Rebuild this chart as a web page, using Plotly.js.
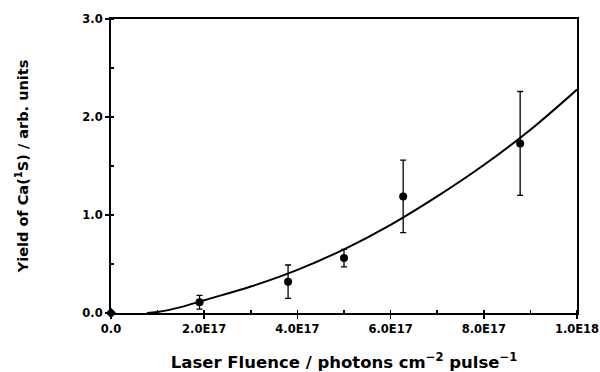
<!DOCTYPE html>
<html>
<head>
<meta charset="utf-8">
<script src="https://cdn.plot.ly/plotly-3.0.1.min.js"></script>
<style>html,body{margin:0;padding:0;background:#fff;}#chart{width:600px;height:372px;}</style>
</head>
<body>
<div id="chart"></div>
<script>
// measured data (laser fluence in photons cm^-2 pulse^-1, yield in arb. units)
const fluence = [0, 1.9e17, 3.8e17, 5.0e17, 6.27e17, 8.78e17];
const yieldVals = [0, 0.11, 0.32, 0.56, 1.19, 1.73];
const errPlus = [0, 0.07, 0.17, 0.09, 0.37, 0.53];
const errMinus = [0, 0.07, 0.17, 0.09, 0.37, 0.53];

// fitted curve
const fitX = [0.77e17, 1.0e17, 1.5e17, 2.0e17, 3.0e17, 4.0e17, 5.0e17, 6.0e17, 7.0e17, 8.0e17, 9.0e17, 1.0e18];
const fitY = [0, 0.01, 0.06, 0.13, 0.27, 0.44, 0.65, 0.90, 1.19, 1.51, 1.87, 2.28];

const xTickVals = [0, 2e17, 4e17, 6e17, 8e17, 1e18];
const xTickText = ["0.0", "2.0E17", "4.0E17", "6.0E17", "8.0E17", "1.0E18"];
const yTickVals = [0, 1, 2, 3];
const yTickText = ["0.0", "1.0", "2.0", "3.0"];

const tickFont = {family: "DejaVu Sans, sans-serif", size: 11.5, color: "#000", weight: "bold"};
const xTitleFont = {family: "DejaVu Sans, sans-serif", size: 16.5, color: "#000", weight: "bold"};
const yTitleFont = {family: "DejaVu Sans, sans-serif", size: 14.5, color: "#000", weight: "bold"};

const traces = [
  {
    x: fitX, y: fitY, mode: "lines", type: "scatter",
    line: {color: "#000", width: 2, shape: "spline"},
    hoverinfo: "skip", showlegend: false
  },
  {
    x: fluence.slice(1), y: yieldVals.slice(1), mode: "markers", type: "scatter",
    marker: {color: "#000", size: 8, symbol: "circle"},
    error_y: {type: "data", symmetric: false, array: errPlus.slice(1), arrayminus: errMinus.slice(1), color: "#000", thickness: 1.3, width: 3},
    showlegend: false, cliponaxis: false
  },
  {
    x: fluence.slice(0, 1), y: yieldVals.slice(0, 1), mode: "markers", type: "scatter",
    marker: {color: "#000", size: 8, symbol: "diamond"},
    showlegend: false, cliponaxis: false
  }
];

const layout = {
  width: 600, height: 372,
  margin: {l: 111, r: 23, t: 19, b: 59},
  paper_bgcolor: "#fff", plot_bgcolor: "#fff",
  showlegend: false,
  xaxis: {
    range: [0, 1e18], showgrid: false, zeroline: false,
    showline: true, linecolor: "#000", linewidth: 2, mirror: true,
    tickmode: "array", tickvals: xTickVals, ticktext: xTickText,
    ticks: "outside", ticklen: 4, tickwidth: 1.5, tickcolor: "#000",
    minor: {dtick: 1e17, tick0: 0, ticks: "inside", ticklen: 3, tickwidth: 1.5, tickcolor: "#000"},
    tickfont: tickFont,
    title: {text: "Laser Fluence / photons cm<sup>\u22122</sup> pulse<sup>\u22121</sup>", font: xTitleFont, standoff: 24}
  },
  yaxis: {
    range: [0, 3], showgrid: false, zeroline: false,
    showline: true, linecolor: "#000", linewidth: 2, mirror: true,
    tickmode: "array", tickvals: yTickVals, ticktext: yTickText,
    ticks: "outside", ticklen: 4, tickwidth: 1.5, tickcolor: "#000",
    minor: {dtick: 0.5, tick0: 0, ticks: "inside", ticklen: 3, tickwidth: 1.5, tickcolor: "#000"},
    tickfont: tickFont,
    title: {text: "Yield of Ca(<sup>1</sup>S) / arb. units", font: yTitleFont, standoff: 50}
  }
};

Plotly.newPlot("chart", traces, layout, {displayModeBar: false, staticPlot: true});
</script>
</body>
</html>
